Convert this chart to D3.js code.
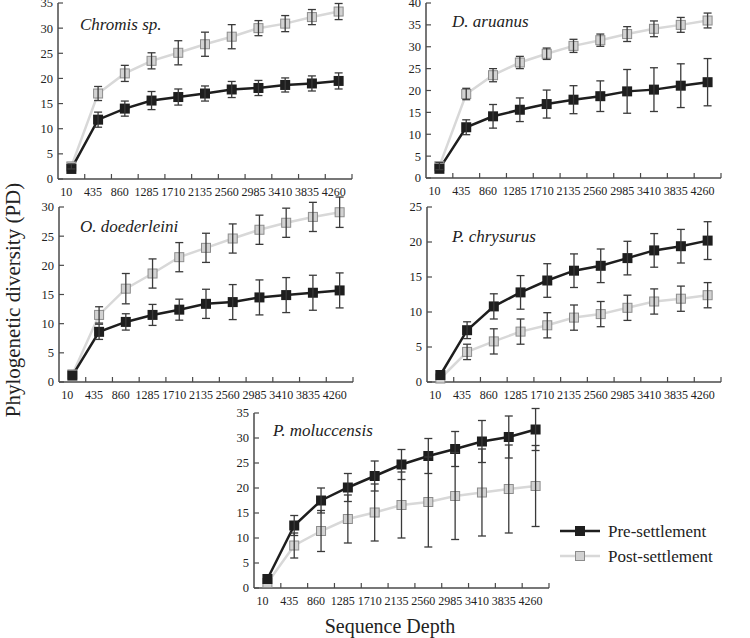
<!DOCTYPE html>
<html><head><meta charset="utf-8">
<script src="https://cdn.jsdelivr.net/npm/d3@7"></script>
<style>body{margin:0;background:#fff}svg{display:block}</style>
</head><body><svg id="c" width="750" height="638"></svg>
<script>
const depths = ["10","435","860","1285","1710","2135","2560","2985","3410","3835","4260"];
const titles = ["Chromis sp.","D. aruanus","O. doederleini","P. chrysurus","P. moluccensis"];
const yMaxes = [35,40,30,25,35];

const chromisPre = [2.0,11.8,14.0,15.6,16.3,17.0,17.8,18.1,18.7,19.0,19.5];
const chromisPreErr = [0,1.5,1.5,1.8,1.6,1.5,1.6,1.5,1.4,1.5,1.6];
const chromisPost = [2.5,17.0,21.0,23.5,25.1,26.8,28.3,30.0,30.9,32.2,33.3];
const chromisPostErr = [0.5,1.4,1.6,1.6,2.4,2.4,2.4,1.5,1.6,1.5,1.6];

const aruanusPre = [2.1,11.6,14.1,15.6,16.9,17.9,18.7,19.8,20.2,21.1,21.9];
const aruanusPreErr = [0,1.7,2.7,2.7,3.2,3.2,3.5,5.0,5.0,5.0,5.4];
const aruanusPost = [2.7,19.2,23.5,26.4,28.4,30.2,31.5,32.9,34.1,35.0,36.0];
const aruanusPostErr = [0.8,1.3,1.5,1.4,1.3,1.5,1.4,1.7,1.8,1.7,1.7];

const doederPre = [1.1,8.6,10.3,11.5,12.4,13.4,13.7,14.5,14.9,15.3,15.7];
const doederPreErr = [0,1.3,1.4,1.8,1.8,2.5,3.0,3.0,3.0,3.0,3.0];
const doederPost = [1.3,11.5,16.0,18.6,21.4,23.0,24.6,26.1,27.3,28.3,29.1];
const doederPostErr = [0,1.4,2.6,2.5,2.5,2.5,2.5,2.5,2.5,2.5,2.6];

const chrysPre = [1.0,7.4,10.8,12.8,14.5,15.9,16.6,17.7,18.8,19.4,20.2];
const chrysPreErr = [0,1.2,1.8,2.4,2.4,2.4,2.4,2.4,2.4,2.4,2.7];
const chrysPost = [0.5,4.3,5.8,7.2,8.1,9.2,9.7,10.6,11.5,11.9,12.4];
const chrysPostErr = [0,1.1,1.8,1.8,1.8,1.8,1.8,1.8,1.8,1.8,1.8];

const moluPre = [1.8,12.5,17.5,20.1,22.4,24.7,26.4,27.8,29.3,30.2,31.7];
const moluPreErr = [0,2.0,2.5,2.8,3.0,3.0,3.5,3.5,4.2,4.2,4.2];
const moluPost = [1.0,8.5,11.4,13.8,15.1,16.6,17.2,18.4,19.1,19.8,20.4];
const moluPostErr = [0,2.5,4.1,4.8,5.7,6.6,9.0,8.7,8.7,8.8,8.1];

const legendLabels = ["Pre-settlement","Post-settlement"];

const pre = [chromisPre,aruanusPre,doederPre,chrysPre,moluPre];
const preErr = [chromisPreErr,aruanusPreErr,doederPreErr,chrysPreErr,moluPreErr];
const post = [chromisPost,aruanusPost,doederPost,chrysPost,moluPost];
const postErr = [chromisPostErr,aruanusPostErr,doederPostErr,chrysPostErr,moluPostErr];

const FONT = "'Liberation Serif', 'DejaVu Serif', serif";

const frames = [
  {x0:58,x1:352,yt:3,yb:179,tx:80,ty:30},
  {x0:426,x1:721,yt:3,yb:178,tx:452,ty:27},
  {x0:59,x1:353,yt:207,yb:382,tx:80,ty:232},
  {x0:427,x1:721,yt:207,yb:382,tx:452,ty:242},
  {x0:254,x1:549,yt:413,yb:588,tx:273,ty:436}
];

const svg = d3.select("#c").attr("font-family",FONT);
const AX = "#4a4a4a";
const PRE = "#1e1e1e", POSTL = "#d8d8d8", POSTF = "#d2d2d2", POSTS = "#8c8c8c", ERR = "#3a3a3a";

frames.forEach((f,i)=>{
  const g = svg.append("g");
  const x = d3.scaleBand().domain(depths).range([f.x0,f.x1]);
  const cx = d => x(d)+x.bandwidth()/2;
  const y = d3.scaleLinear().domain([0,yMaxes[i]]).range([f.yb,f.yt]);

  g.append("line").attr("x1",f.x0).attr("x2",f.x0).attr("y1",f.yb).attr("y2",f.yt).attr("stroke",AX).attr("stroke-width",1.5);
  g.append("line").attr("x1",f.x0).attr("x2",f.x1).attr("y1",f.yb).attr("y2",f.yb).attr("stroke",AX).attr("stroke-width",1.5);
  const yt = d3.range(0,yMaxes[i]+0.1,5);
  g.selectAll(".yt").data(yt).enter().append("line").attr("x1",f.x0).attr("x2",f.x0+5).attr("y1",d=>y(d)).attr("y2",d=>y(d)).attr("stroke",AX).attr("stroke-width",1.2);
  g.selectAll(".yl").data(yt).enter().append("text").attr("font-family",FONT).attr("fill","#222").attr("x",f.x0-5).attr("y",d=>y(d)).attr("dy","0.35em").attr("text-anchor","end").attr("font-size",12.5).text(d=>d);
  const bounds = depths.slice(1).map(d=>x(d)).concat([f.x1]);
  g.selectAll(".xt").data(bounds).enter().append("line").attr("x1",d=>d).attr("x2",d=>d).attr("y1",f.yb).attr("y2",f.yb-5).attr("stroke",AX).attr("stroke-width",1.2);
  g.selectAll(".xl").data(depths).enter().append("text").attr("font-family",FONT).attr("fill","#222").attr("x",d=>cx(d)-5).attr("y",f.yb+13).attr("dy","0.35em").attr("text-anchor","middle").attr("font-size",12).text(d=>d);

  g.append("text").attr("font-family",FONT).attr("fill","#222").attr("x",f.tx).attr("y",f.ty).attr("font-size",17).attr("font-style","italic").text(titles[i]);

  const line = d3.line().x((d,j)=>cx(depths[j])).y(d=>y(d));
  g.append("path").attr("d",line(post[i])).attr("fill","none").attr("stroke",POSTL).attr("stroke-width",2.5);
  g.append("path").attr("d",line(pre[i])).attr("fill","none").attr("stroke",PRE).attr("stroke-width",2.5);

  g.selectAll(".ps").data(post[i]).enter().append("rect")
    .attr("x",(d,j)=>cx(depths[j])-4.5).attr("y",d=>y(d)-4.5).attr("width",9).attr("height",9)
    .attr("fill",POSTF).attr("stroke",POSTS).attr("stroke-width",1);
  g.selectAll(".qs").data(pre[i]).enter().append("rect")
    .attr("x",(d,j)=>cx(depths[j])-5).attr("y",d=>y(d)-5).attr("width",10).attr("height",10)
    .attr("fill",PRE);

  function errs(vals, es){
    vals.forEach((v,j)=>{
      const e = es[j]; if(!e) return;
      const xx = cx(depths[j]);
      g.append("line").attr("x1",xx).attr("x2",xx).attr("y1",y(v+e)).attr("y2",y(v-e)).attr("stroke",ERR).attr("stroke-width",1.3);
      [v+e,v-e].forEach(t=>g.append("line").attr("x1",xx-4).attr("x2",xx+4).attr("y1",y(t)).attr("y2",y(t)).attr("stroke",ERR).attr("stroke-width",1.3));
    });
  }
  errs(post[i],postErr[i]);
  errs(pre[i],preErr[i]);
});

svg.append("text").attr("font-family",FONT).attr("fill","#222").attr("transform","translate(20,300) rotate(-90)").attr("text-anchor","middle").attr("font-size",21).text("Phylogenetic diversity (PD)");
svg.append("text").attr("font-family",FONT).attr("fill","#222").attr("x",390).attr("y",633).attr("text-anchor","middle").attr("font-size",20).text("Sequence Depth");

const lg = svg.append("g");
const legY = [531,556];
legendLabels.forEach((lab,k)=>{
  const yy = legY[k];
  lg.append("line").attr("x1",560).attr("x2",600).attr("y1",yy).attr("y2",yy).attr("stroke",k?POSTL:PRE).attr("stroke-width",2.5);
  if(k) lg.append("rect").attr("x",575.5).attr("y",yy-4.5).attr("width",9).attr("height",9).attr("fill",POSTF).attr("stroke",POSTS);
  else lg.append("rect").attr("x",575).attr("y",yy-5).attr("width",10).attr("height",10).attr("fill",PRE);
  lg.append("text").attr("font-family",FONT).attr("fill","#222").attr("x",608).attr("y",yy).attr("dy","0.35em").attr("font-size",17).text(lab);
});
</script></body></html>
